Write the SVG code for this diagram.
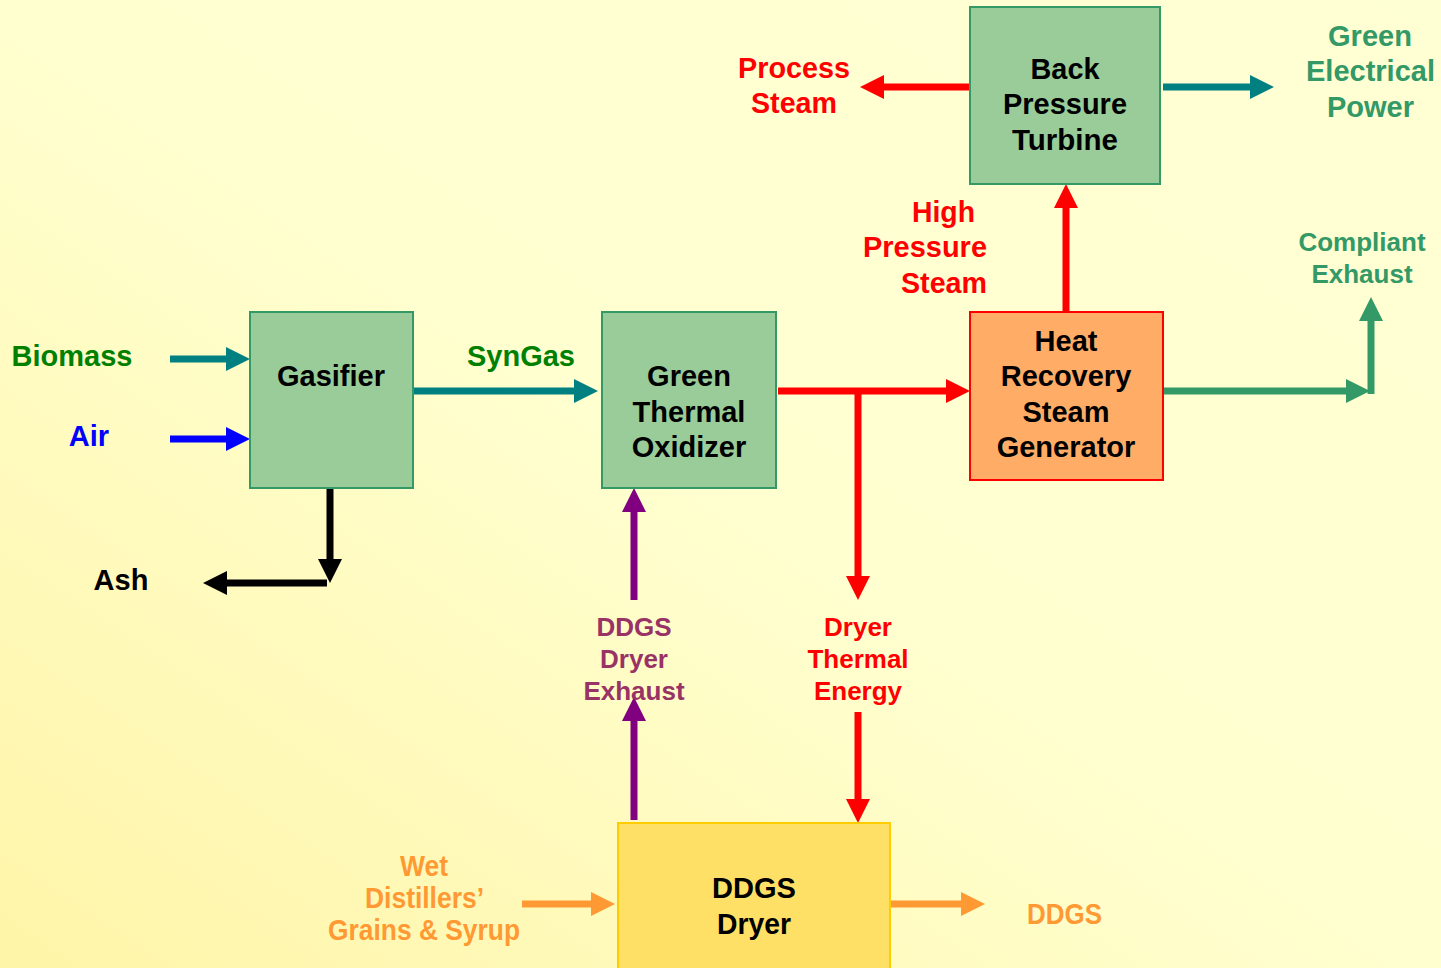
<svg xmlns="http://www.w3.org/2000/svg" width="1441" height="968" viewBox="0 0 1441 968">
<style>
text{font-family:"Liberation Sans",Arial,sans-serif;font-weight:bold;text-anchor:middle}
.t29{font-size:29px}
.t26{font-size:26px}
.c{font-size:30px}
.box-g{fill:#99CC99;stroke:#339966;stroke-width:2}
.ln{fill:none;stroke-width:7}
</style>
<defs>
<linearGradient id="bg" x1="0" y1="1" x2="1" y2="0">
<stop offset="0" stop-color="#FFF5A8"/>
<stop offset="0.5" stop-color="#FFFFD0"/>
<stop offset="1" stop-color="#FFFFD4"/>
</linearGradient>
<marker id="mTeal" markerUnits="userSpaceOnUse" markerWidth="24" markerHeight="24" refX="2" refY="12" orient="auto"><path d="M0,0 L24,12 L0,24 z" fill="#008080"/></marker>
<marker id="mBlue" markerUnits="userSpaceOnUse" markerWidth="24" markerHeight="24" refX="2" refY="12" orient="auto"><path d="M0,0 L24,12 L0,24 z" fill="#0000FF"/></marker>
<marker id="mBlack" markerUnits="userSpaceOnUse" markerWidth="24" markerHeight="24" refX="2" refY="12" orient="auto"><path d="M0,0 L24,12 L0,24 z" fill="#000000"/></marker>
<marker id="mRed" markerUnits="userSpaceOnUse" markerWidth="24" markerHeight="24" refX="2" refY="12" orient="auto"><path d="M0,0 L24,12 L0,24 z" fill="#FF0000"/></marker>
<marker id="mGreen" markerUnits="userSpaceOnUse" markerWidth="24" markerHeight="24" refX="2" refY="12" orient="auto"><path d="M0,0 L24,12 L0,24 z" fill="#339966"/></marker>
<marker id="mPurple" markerUnits="userSpaceOnUse" markerWidth="24" markerHeight="24" refX="2" refY="12" orient="auto"><path d="M0,0 L24,12 L0,24 z" fill="#800080"/></marker>
<marker id="mOrange" markerUnits="userSpaceOnUse" markerWidth="24" markerHeight="24" refX="2" refY="12" orient="auto"><path d="M0,0 L24,12 L0,24 z" fill="#FF9933"/></marker>
</defs>
<rect x="0" y="0" width="1441" height="968" fill="url(#bg)"/>

<g id="connectors">
<path class="ln" stroke="#008080" d="M170,359 H228" marker-end="url(#mTeal)"/>
<path class="ln" stroke="#0000FF" d="M170,439 H228" marker-end="url(#mBlue)"/>
<path class="ln" stroke="#000000" d="M330,488 V561" marker-end="url(#mBlack)"/>
<path class="ln" stroke="#000000" d="M327,583 H225" marker-end="url(#mBlack)"/>
<path class="ln" stroke="#008080" d="M413,391 H576" marker-end="url(#mTeal)"/>
<path class="ln" stroke="#FF0000" d="M778,391 H948" marker-end="url(#mRed)"/>
<path class="ln" stroke="#FF0000" d="M858,391 V578" marker-end="url(#mRed)"/>
<path class="ln" stroke="#FF0000" d="M1066,312 V206" marker-end="url(#mRed)"/>
<path class="ln" stroke="#FF0000" d="M970,87 H882" marker-end="url(#mRed)"/>
<path class="ln" stroke="#008080" d="M1163,87 H1252" marker-end="url(#mTeal)"/>
<path class="ln" stroke="#339966" d="M1163,391 H1348" marker-end="url(#mGreen)"/>
<path class="ln" stroke="#339966" d="M1371,394 V319" marker-end="url(#mGreen)"/>
<path class="ln" stroke="#800080" d="M634,600 V510" marker-end="url(#mPurple)"/>
<path class="ln" stroke="#800080" d="M634,820 V719" marker-end="url(#mPurple)"/>
<path class="ln" stroke="#FF0000" d="M858,712 V801" marker-end="url(#mRed)"/>
<path class="ln" stroke="#FF9933" d="M522,904 H593" marker-end="url(#mOrange)"/>
<path class="ln" stroke="#FF9933" d="M890,904 H963" marker-end="url(#mOrange)"/>
</g>

<g id="gasifier">
<rect class="box-g" x="250" y="312" width="163" height="176"/>
<text class="t29" x="331" y="386">Gasifier</text>
</g>
<g id="green-thermal-oxidizer">
<rect class="box-g" x="602" y="312" width="174" height="176"/>
<text class="t29" x="689" y="386">Green</text>
<text class="t29" x="689" y="422">Thermal</text>
<text class="t29" x="689" y="457">Oxidizer</text>
</g>
<g id="back-pressure-turbine">
<rect class="box-g" x="970" y="7" width="190" height="177"/>
<text class="c" x="1065" y="79" textLength="69" lengthAdjust="spacingAndGlyphs">Back</text>
<text class="c" x="1065" y="114" textLength="124" lengthAdjust="spacingAndGlyphs">Pressure</text>
<text class="c" x="1065" y="150" textLength="106" lengthAdjust="spacingAndGlyphs">Turbine</text>
</g>
<g id="hrsg">
<rect x="970" y="312" width="193" height="168" fill="#FFAD66" stroke="#FF0000" stroke-width="2"/>
<text class="t29" x="1066" y="351">Heat</text>
<text class="t29" x="1066" y="386">Recovery</text>
<text class="t29" x="1066" y="422">Steam</text>
<text class="t29" x="1066" y="457">Generator</text>
</g>
<g id="ddgs-dryer">
<rect x="618" y="823" width="272" height="150" fill="#FFE066" stroke="#FFCC00" stroke-width="2"/>
<text class="c" x="754" y="898" textLength="84" lengthAdjust="spacingAndGlyphs">DDGS</text>
<text class="c" x="754" y="934" textLength="74" lengthAdjust="spacingAndGlyphs">Dryer</text>
</g>

<g id="labels">
<text class="t29" x="72" y="366" fill="#008000">Biomass</text>
<text class="t29" x="89" y="446" fill="#0000FF">Air</text>
<text class="t29" x="121" y="590" fill="#000000">Ash</text>
<text class="t29" x="521" y="366" fill="#008000">SynGas</text>
<text class="c" x="794" y="78" fill="#FF0000" textLength="112" lengthAdjust="spacingAndGlyphs">Process</text>
<text class="c" x="794" y="113" fill="#FF0000" textLength="86" lengthAdjust="spacingAndGlyphs">Steam</text>
<text class="c" x="943.5" y="222" fill="#FF0000" textLength="63" lengthAdjust="spacingAndGlyphs">High</text>
<text class="c" x="925" y="257" fill="#FF0000" textLength="124" lengthAdjust="spacingAndGlyphs">Pressure</text>
<text class="c" x="944" y="293" fill="#FF0000" textLength="86" lengthAdjust="spacingAndGlyphs">Steam</text>
<text class="c" x="1370" y="46" fill="#339966" textLength="84" lengthAdjust="spacingAndGlyphs">Green</text>
<text class="c" x="1370.5" y="81" fill="#339966" textLength="129" lengthAdjust="spacingAndGlyphs">Electrical</text>
<text class="c" x="1370.5" y="117" fill="#339966" textLength="87" lengthAdjust="spacingAndGlyphs">Power</text>
<text class="t26" x="1362" y="251" fill="#339966">Compliant</text>
<text class="t26" x="1362" y="283" fill="#339966">Exhaust</text>
<text class="t26" x="634" y="636" fill="#993366">DDGS</text>
<text class="t26" x="634" y="668" fill="#993366">Dryer</text>
<text class="t26" x="634" y="700" fill="#993366">Exhaust</text>
<text class="t26" x="858" y="636" fill="#FF0000">Dryer</text>
<text class="t26" x="858" y="668" fill="#FF0000">Thermal</text>
<text class="t26" x="858" y="700" fill="#FF0000">Energy</text>
<text class="c" x="424" y="876" fill="#FF9933" font-size="28" textLength="48" lengthAdjust="spacingAndGlyphs">Wet</text>
<text class="c" x="424.5" y="908" fill="#FF9933" textLength="119" lengthAdjust="spacingAndGlyphs">Distillers’</text>
<text class="c" x="424" y="940" fill="#FF9933" textLength="192" lengthAdjust="spacingAndGlyphs">Grains &amp; Syrup</text>
<text class="c" x="1064.5" y="924" fill="#FF9933" textLength="75" lengthAdjust="spacingAndGlyphs">DDGS</text>
</g>
</svg>
